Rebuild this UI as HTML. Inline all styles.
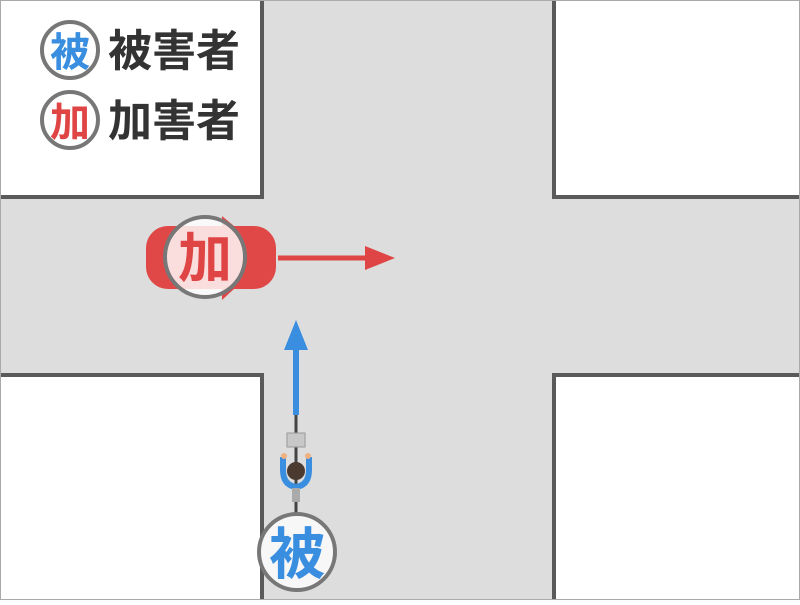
<!DOCTYPE html>
<html><head><meta charset="utf-8"><style>
body{margin:0;width:800px;height:600px;overflow:hidden;background:#fff}
</style></head><body>
<svg width="800" height="600" xmlns="http://www.w3.org/2000/svg" font-family="Liberation Sans, Noto Sans CJK JP, sans-serif">
<rect x="0" y="0" width="800" height="600" fill="#fff"/>
<rect x="262" y="0" width="292" height="600" fill="#dddddd"/>
<rect x="0" y="197" width="800" height="178" fill="#dddddd"/>
<g stroke="#5a5a5a" stroke-width="4" fill="none">
<polyline points="262,0 262,197 0,197"/>
<polyline points="554,0 554,197 800,197"/>
<polyline points="0,375 262,375 262,600"/>
<polyline points="800,375 554,375 554,600"/>
</g>
<rect x="0.5" y="0.5" width="799" height="599" fill="none" stroke="#aaa"/>
<circle cx="70" cy="50" r="28" fill="#fff" stroke="#777" stroke-width="4"/>
<text x="70" y="66" font-size="40" fill="#3a8ee0" text-anchor="middle" font-weight="bold">被</text>
<text x="108" y="66" font-size="44" fill="#333" font-weight="bold">被害者</text>
<circle cx="70" cy="120" r="28" fill="#fff" stroke="#777" stroke-width="4"/>
<text x="70" y="136" font-size="40" fill="#e04545" text-anchor="middle" font-weight="bold">加</text>
<text x="108" y="136" font-size="44" fill="#333" font-weight="bold">加害者</text>
<rect x="146" y="226" width="130" height="63" rx="22" fill="#e04848"/>
<path d="M222,216 L234,226 L234,289 L222,300 Z" fill="#e04848"/>
<circle cx="205" cy="257" r="40" fill="#fff" fill-opacity="0.82" stroke="#777" stroke-width="4"/>
<text x="205" y="277" font-size="54" fill="#e04545" text-anchor="middle" font-weight="bold">加</text>
<line x1="278" y1="258" x2="370" y2="258" stroke="#e04545" stroke-width="5"/>
<polygon points="365,246 395,258 365,270" fill="#e04545"/>
<line x1="296" y1="415" x2="296" y2="345" stroke="#3a8ee0" stroke-width="6"/>
<polygon points="284,350 296,320 308,350" fill="#3a8ee0"/>
<line x1="296" y1="415" x2="296" y2="515" stroke="#444" stroke-width="3"/>
<rect x="287" y="433" width="18" height="14" fill="#c8c8c8" stroke="#999"/>
<path d="M283,457 L283,470 Q283,485 296,487 Q309,485 309,470 L309,457" fill="none" stroke="#3a8ee0" stroke-width="6"/>
<circle cx="284" cy="456" r="3" fill="#f0b080"/><circle cx="308" cy="456" r="3" fill="#f0b080"/>
<circle cx="296" cy="471" r="9" fill="#4a3a30"/>
<rect x="292" y="488" width="8" height="14" fill="#aaa"/>
<circle cx="297" cy="552" r="38" fill="#f7f7f7" stroke="#777" stroke-width="4"/>
<text x="297" y="574" font-size="56" fill="#3a8ee0" text-anchor="middle" font-weight="bold">被</text>
</svg>
</body></html>
